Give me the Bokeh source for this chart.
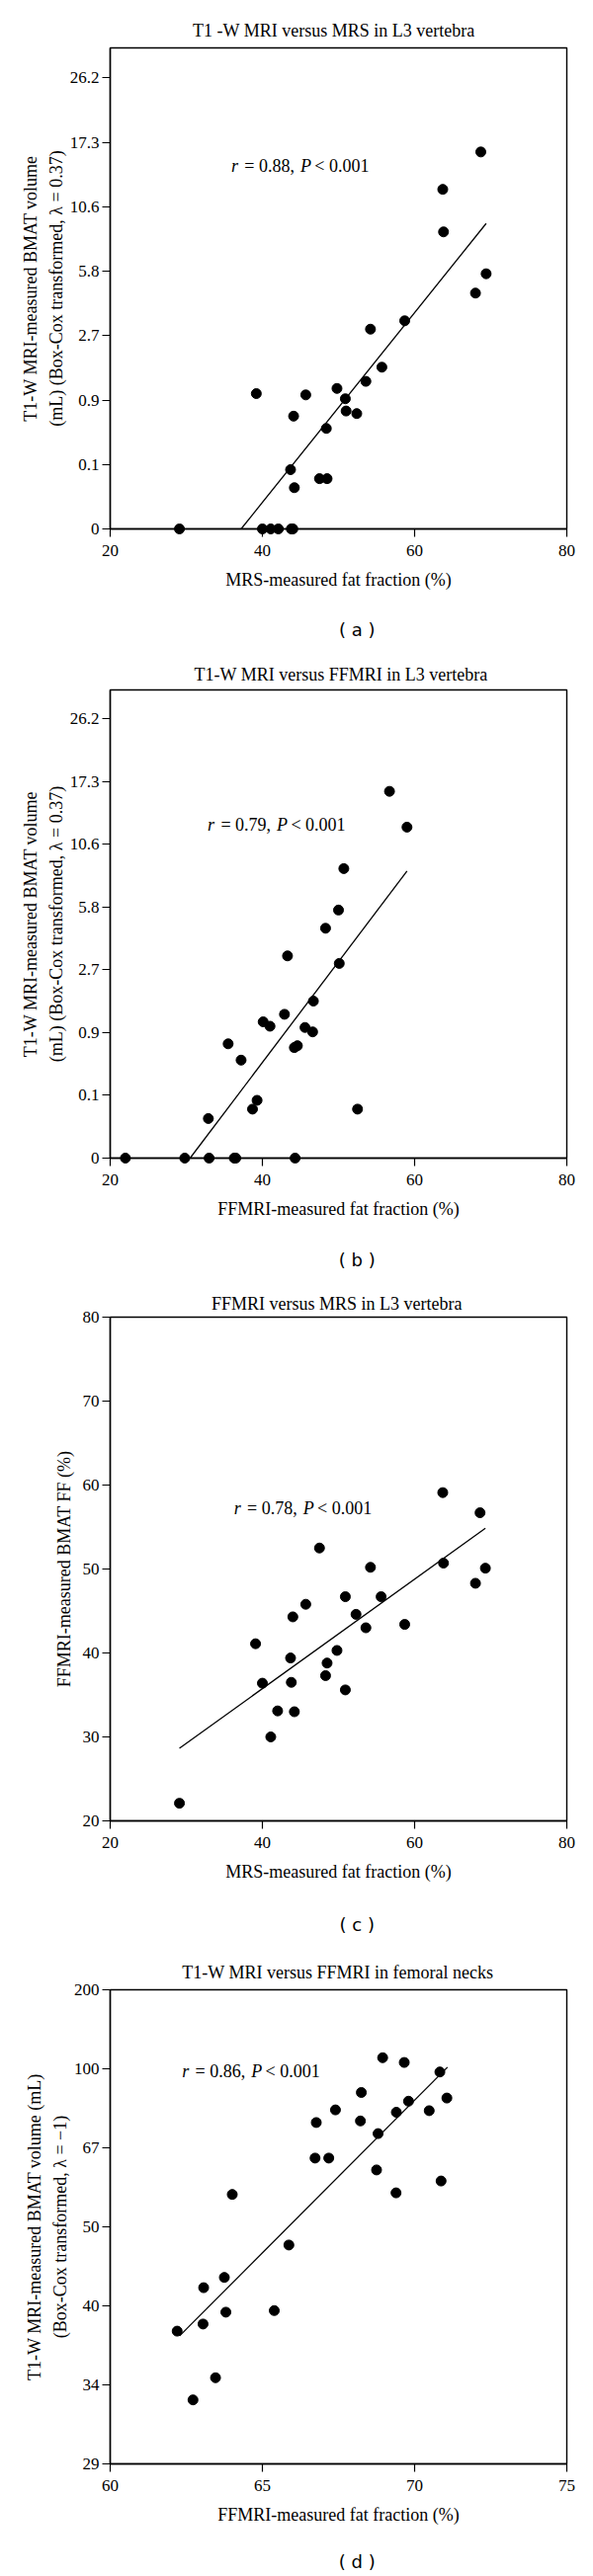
from bokeh.plotting import figure
from bokeh.layouts import column
from bokeh.models import FixedTicker, Label, Range1d
from bokeh.core.properties import value
from bokeh.embed import file_html
from bokeh.resources import INLINE

SERIF = "Liberation Serif"
SANS = "DejaVu Sans"

# ---------------- data ----------------
# (a) T1-W MRI vs MRS, L3 (y in Box-Cox tick-index units)
a_x = [29.1, 40.0, 41.1, 42.1, 43.8, 44.0, 39.2, 45.7, 44.1, 43.7, 44.2, 47.5, 48.5, 48.4,
       49.8, 50.9, 51.0, 52.4, 53.6, 54.2, 55.7, 58.7, 63.7, 63.8, 68.7, 68.0, 69.4]
a_y = [0, 0, 0, 0, 0, 0, 2.10, 2.08, 1.75, 0.92, 0.64, 0.78, 0.78, 1.56,
       2.18, 2.02, 1.83, 1.79, 2.29, 3.10, 2.51, 3.23, 5.27, 4.61, 5.85, 3.66, 3.96]
a_fit_x = [37.2, 69.4]
a_fit_y = [0.0, 4.74]

# (b) T1-W MRI vs FFMRI, L3
b_x = [22.0, 29.8, 33.0, 36.3, 36.5, 44.3, 32.9, 35.5, 37.2, 38.7, 39.3, 40.1, 41.0, 42.9,
       43.3, 44.2, 44.6, 45.6, 46.6, 46.7, 48.3, 50.0, 50.1, 50.7, 52.5, 56.7, 59.0]
b_y = [0, 0, 0, 0, 0, 0, 0.63, 1.82, 1.56, 0.78, 0.92, 2.17, 2.10, 2.29,
       3.22, 1.76, 1.79, 2.08, 2.01, 2.50, 3.66, 3.95, 3.10, 4.61, 0.78, 5.84, 5.27]
b_fit_x = [30.5, 59.0]
b_fit_y = [0.0, 4.57]

vol_ticks = ["0", "0.1", "0.9", "2.7", "5.8", "10.6", "17.3", "26.2"]

# (c) FFMRI vs MRS, L3
c_x = [29.1, 39.1, 40.0, 41.1, 42.0, 43.7, 43.8, 44.0, 44.2, 45.7, 47.5, 48.3, 48.5,
       49.8, 50.9, 50.9, 52.3, 53.6, 54.2, 55.6, 58.7, 63.7, 63.8, 68.0, 68.6, 69.3]
c_y = [22.1, 41.1, 36.4, 30.0, 33.1, 39.4, 36.5, 44.3, 33.0, 45.8, 52.5, 37.3, 38.8,
       40.3, 46.7, 35.6, 44.6, 43.0, 50.2, 46.7, 43.4, 59.1, 50.7, 48.3, 56.7, 50.1]
c_fit_x = [29.1, 69.3]
c_fit_y = [28.65, 54.85]

# (d) T1-W MRI vs FFMRI, femoral necks (y in Box-Cox tick-index units)
d_x = [62.20, 62.72, 63.05, 63.07, 63.46, 63.75, 63.80, 64.01, 65.39, 65.87, 66.73, 66.77,
       67.18, 67.40, 68.22, 68.25, 68.75, 68.80, 68.95, 69.39, 69.40, 69.66, 69.80, 70.48,
       70.83, 70.87, 71.06]
d_y = [1.68, 0.81, 1.77, 2.23, 1.09, 2.36, 1.92, 3.41, 1.94, 2.77, 3.87, 4.32,
       3.87, 4.48, 4.34, 4.70, 3.72, 4.18, 5.14, 3.43, 4.45, 5.08, 4.59, 4.47,
       4.96, 3.58, 4.63]
d_fit_x = [62.28, 71.08]
d_fit_y = [1.62, 5.02]
neck_ticks = ["29", "34", "40", "50", "67", "100", "200"]


def panel(height, borders, xr, yr, xticks, yticks, ylabels, x, y, fx, fy,
          title, title_off, title_standoff, xlabel, ylabel, ylab_standoff,
          r_val, r_x, r_y):
    left, right, top, bottom = borders
    p = figure(width=600, height=height, output_backend="svg", toolbar_location=None,
               x_range=Range1d(*xr), y_range=Range1d(*yr),
               min_border_left=left, min_border_right=right,
               min_border_top=top, min_border_bottom=bottom)
    p.grid.visible = False
    p.outline_line_color = "black"
    p.outline_line_width = 1.4
    p.background_fill_color = "white"
    p.border_fill_color = "white"

    p.title.text = title
    p.title.align = "left"
    p.title.offset = title_off
    p.title.standoff = title_standoff
    p.title.text_font = SERIF
    p.title.text_font_size = "18px"
    p.title.text_font_style = "normal"
    p.title.text_color = "black"

    for ax in (p.xaxis[0], p.yaxis[0]):
        ax.axis_line_color = "black"
        ax.axis_line_width = 1.4
        ax.major_tick_line_color = "black"
        ax.major_tick_line_width = 1.2
        ax.major_tick_out = 8
        ax.major_tick_in = 0
        ax.minor_tick_line_color = None
        ax.major_label_text_font = SERIF
        ax.major_label_text_font_size = "17px"
        ax.major_label_text_color = "black"
        ax.axis_label_text_font = SERIF
        ax.axis_label_text_font_size = "18px"
        ax.axis_label_text_font_style = "normal"
        ax.axis_label_text_color = "black"
        ax.axis_label_text_line_height = 1.3

    p.xaxis.ticker = FixedTicker(ticks=xticks)
    p.xaxis.major_label_standoff = 8
    p.xaxis.axis_label = xlabel
    p.xaxis.axis_label_standoff = 11

    p.yaxis.ticker = FixedTicker(ticks=yticks)
    if ylabels is not None:
        p.yaxis.major_label_overrides = {t: s for t, s in zip(yticks, ylabels)}
    p.yaxis.major_label_standoff = 3
    p.yaxis.axis_label = ylabel
    p.yaxis.axis_label_standoff = ylab_standoff

    p.line(fx, fy, line_color="black", line_width=1.3)
    p.scatter(x, y, size=10, marker="circle", fill_color="black", line_color="black",
              level="overlay")

    # correlation text
    pieces = [("r", "italic", 0), ("= %s," % r_val, "normal", 13.4),
              ("P", "italic", 70), ("< 0.001", "normal", 84.4)]
    for txt, style, off in pieces:
        p.add_layout(Label(x=r_x, y=r_y, x_offset=off, text=txt, text_font=SERIF,
                           text_font_size="18px", text_font_style=style,
                           text_align="left", text_baseline="middle", text_color="black"))
    return p


def caption(letter, height, cx, cy):
    c = figure(width=600, height=height, output_backend="svg", toolbar_location=None,
               x_range=Range1d(0, 600), y_range=Range1d(0, height),
               x_axis_type=None, y_axis_type=None, min_border=0)
    c.grid.visible = False
    c.outline_line_color = None
    c.text(x=[cx], y=[cy], text=["( %s )" % letter], text_font=value(SANS),
           text_font_size=value("18px"), text_align="center", text_baseline="middle",
           text_color="black")
    return c


ylab_vol = "T1-W MRI-measured BMAT volume\n(mL) (Box-Cox transformed, \u03bb = 0.37)"

pa = panel(610, (110, 26, 48, 75), (20, 80), (0, 7.465), [20, 40, 60, 80],
           list(range(8)), vol_ticks, a_x, a_y, a_fit_x, a_fit_y,
           "T1 -W MRI versus MRS in L3 vertebra", 83.5, 16,
           "MRS-measured fat fraction (%)", ylab_vol, 1,
           "0.88", 35.9, 5.64)
ca = caption("a", 50, 324.4, 23)

pb = panel(590, (111, 26, 38, 78), (20, 80), (0, 7.455), [20, 40, 60, 80],
           list(range(8)), vol_ticks, b_x, b_y, b_fit_x, b_fit_y,
           "T1-W MRI versus FFMRI in L3 vertebra", 85, 12,
           "FFMRI-measured fat fraction (%)", ylab_vol, 1,
           "0.79", 32.8, 5.31)
cb = caption("b", 50, 324.4, 24.7)

pc = panel(620, (83, 26, 33, 77), (20, 80), (20, 80), [20, 40, 60, 80],
           [20, 30, 40, 50, 60, 70, 80], None, c_x, c_y, c_fit_x, c_fit_y,
           "FFMRI versus MRS in L3 vertebra", 102.4, 8,
           "MRS-measured fat fraction (%)", "FFMRI-measured BMAT FF (%)", 6,
           "0.78", 36.26, 57.2)
cc = caption("c", 48, 324.4, 20)

pd = panel(602, (108, 27, 46, 76), (60, 75), (0, 6), [60, 65, 70, 75],
           list(range(7)), neck_ticks, d_x, d_y, d_fit_x, d_fit_y,
           "T1-W MRI versus FFMRI in femoral necks", 72.8, 15,
           "FFMRI-measured fat fraction (%)",
           "T1-W MRI-measured BMAT volume (mL)\n(Box-Cox transformed, \u03bb = \u22121)", 1,
           "0.86", 62.36, 4.97)
cd = caption("d", 38, 324.4, 15.4)

layout = column(pa, ca, pb, cb, pc, cc, pd, cd, spacing=0)
open("out.html", "w").write(file_html(layout, INLINE))
